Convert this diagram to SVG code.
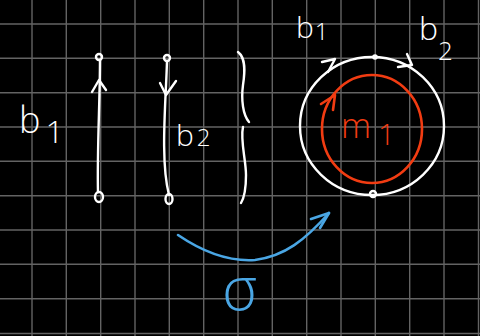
<svg xmlns="http://www.w3.org/2000/svg" width="480" height="336" viewBox="0 0 480 336">
<defs>
<style>
.grid line{stroke:#636363;stroke-width:1.4}
.w{fill:none;stroke:#ffffff;stroke-width:2.4;stroke-linecap:round;stroke-linejoin:round}
.r{fill:none;stroke:#f23c12;stroke-width:2.6;stroke-linecap:round;stroke-linejoin:round}
.b{fill:none;stroke:#4aa6e4;stroke-width:2.6;stroke-linecap:round;stroke-linejoin:round}
.tw{fill:#ffffff;font-family:"Open Sans","Liberation Sans",sans-serif;font-weight:300}
.tr{fill:#f23c12;font-family:"Open Sans","Liberation Sans",sans-serif;font-weight:300}
.tb{fill:#4aa6e4;font-family:"Open Sans","Liberation Sans",sans-serif;font-weight:300}
</style>
</defs>
<rect width="480" height="336" fill="#000"/>
<g class="grid">
<line x1="32" y1="0" x2="32" y2="336"/><line x1="66.3" y1="0" x2="66.3" y2="336"/><line x1="100.7" y1="0" x2="100.7" y2="336"/><line x1="135" y1="0" x2="135" y2="336"/><line x1="169.3" y1="0" x2="169.3" y2="336"/><line x1="203.7" y1="0" x2="203.7" y2="336"/><line x1="238" y1="0" x2="238" y2="336"/><line x1="272.3" y1="0" x2="272.3" y2="336"/><line x1="306.7" y1="0" x2="306.7" y2="336"/><line x1="341" y1="0" x2="341" y2="336"/><line x1="375.3" y1="0" x2="375.3" y2="336"/><line x1="409.7" y1="0" x2="409.7" y2="336"/><line x1="444" y1="0" x2="444" y2="336"/><line x1="478.5" y1="0" x2="478.5" y2="336"/>
<line x1="0" y1="24" x2="480" y2="24"/><line x1="0" y1="58.3" x2="480" y2="58.3"/><line x1="0" y1="92.7" x2="480" y2="92.7"/><line x1="0" y1="127" x2="480" y2="127"/><line x1="0" y1="161.3" x2="480" y2="161.3"/><line x1="0" y1="195.7" x2="480" y2="195.7"/><line x1="0" y1="230" x2="480" y2="230"/><line x1="0" y1="264.3" x2="480" y2="264.3"/><line x1="0" y1="298.7" x2="480" y2="298.7"/><line x1="0" y1="333.5" x2="480" y2="333.5"/>
</g>
<g id="strand-b1">
<path class="w" d="M100,60 C100,100 97,150 98,192"/>
<circle class="w" cx="99" cy="57" r="3"/>
<ellipse class="w" cx="99" cy="197" rx="4" ry="5"/>
<path class="w" d="M92,92 L99,80 L106,90"/>
<text class="tw" x="19" y="133" font-size="36">b<tspan dx="5" dy="10" font-size="32">1</tspan></text>
</g>
<g id="strand-b2">
<path class="w" d="M167,61 C166,100 160,160 169,195"/>
<circle class="w" cx="167" cy="58" r="3"/>
<ellipse class="w" cx="169" cy="199" rx="3.5" ry="5"/>
<path class="w" d="M160,83 L166,95 L176,81"/>
<text class="tw" x="176" y="146" font-size="30">b<tspan dx="3" font-size="24">2</tspan></text>
</g>
<g id="brace">
<path class="w" d="M238,52 C246,58 245,72 243,85 C241,100 243,115 249,122"/>
<path class="w" d="M243,127 C240,140 246,160 246,175 C246,190 244,198 241,203"/>
</g>
<g id="annulus">
<ellipse class="w" cx="372" cy="126" rx="72" ry="69"/>
<circle cx="375" cy="57" r="2.8" fill="#fff"/>
<circle class="w" cx="373" cy="194" r="3" stroke-width="1.8"/>
<path class="w" d="M322,62 L335,59 L328,72"/>
<path class="w" d="M407,54 L412,65 L398,67"/>
<text class="tw" x="296" y="38" font-size="30">b<tspan dx="1" dy="2" font-size="24">1</tspan></text>
<text class="tw" x="419" y="40" font-size="32">b<tspan dx="0" dy="20" font-size="26">2</tspan></text>
<ellipse class="r" cx="372" cy="129" rx="50" ry="54"/>
<path class="r" d="M321,104 L335,95 L333,110"/>
<text class="tr" x="341" y="138" font-size="34">m<tspan dx="7" dy="7" font-size="30">1</tspan></text>
</g>
<g id="connectors">
<path class="b" d="M178,235 C200,250 225,262 255,260 C285,256 305,240 329,213"/>
<path class="b" d="M311,219 L329,213 L320,228"/>
</g>
<g id="label-sigma">
<text class="tb" x="222" y="310" font-size="60">σ</text>
</g>
</svg>
